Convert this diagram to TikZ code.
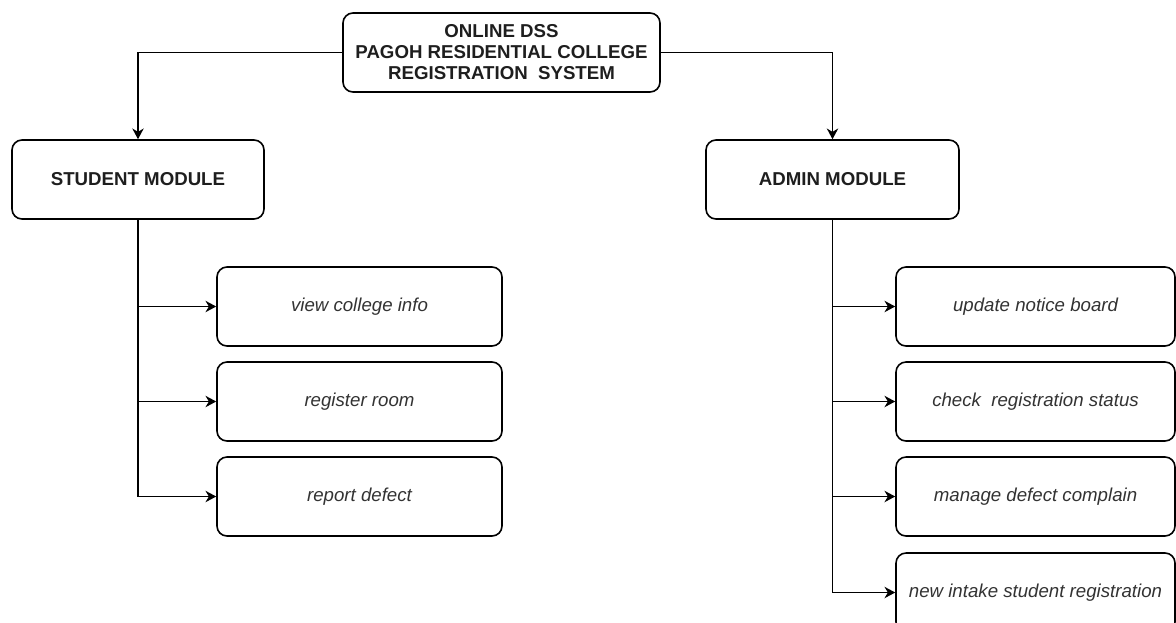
\documentclass[tikz,border=0pt]{standalone}
\usepackage{fontspec}
\setmainfont{Liberation Sans}
\usetikzlibrary{arrows.meta}
\definecolor{txtdark}{HTML}{1E1E1E}
\definecolor{txtital}{HTML}{333333}
\tikzset{
  box/.style={draw=black, line width=1.2pt, rounded corners=7.5pt, fill=white, align=center, inner sep=0pt},
  headbox/.style={box, font=\fontsize{14}{15.75}\selectfont\bfseries, text=txtdark},
  itembox/.style={box, font=\fontsize{14}{15.75}\selectfont\itshape, text=txtital},
  arr/.style={line width=1.2pt, -{Stealth[length=8pt, width=8.5pt, inset=2.5pt]}}
}
\begin{document}
\begin{tikzpicture}[x=0.75pt, y=-0.75pt]
\useasboundingbox (0,0) rectangle (1176,622);
\clip (0,0) rectangle (1176,622);
\fill[white] (0,0) rectangle (1176,622);
% top
\node[headbox, minimum width=237.75pt, minimum height=59.25pt] (top) at (501.5,52.5)
  {ONLINE DSS\\PAGOH RESIDENTIAL COLLEGE\\REGISTRATION~~SYSTEM};
% modules
\node[headbox, minimum width=189pt, minimum height=59.25pt] (stu) at (138,179.5) {STUDENT MODULE};
\node[headbox, minimum width=189.75pt, minimum height=59.25pt] (adm) at (832.5,179.5) {ADMIN MODULE};
% student children
\node[itembox, minimum width=213.75pt, minimum height=59.25pt] (s1) at (359.5,306.5) {view college info};
\node[itembox, minimum width=213.75pt, minimum height=59.25pt] (s2) at (359.5,401.5) {register room};
\node[itembox, minimum width=213.75pt, minimum height=59.25pt] (s3) at (359.5,496.5) {report defect};
% admin children
\node[itembox, minimum width=209.25pt, minimum height=59.25pt] (a1) at (1035.5,306.5) {update notice board};
\node[itembox, minimum width=209.25pt, minimum height=59.25pt] (a2) at (1035.5,401.5) {check~~registration status};
\node[itembox, minimum width=209.25pt, minimum height=59.25pt] (a3) at (1035.5,496.5) {manage defect complain};
\node[itembox, minimum width=209.25pt, minimum height=59.25pt] (a4) at (1035.5,592.5) {new intake student registration};
% connectors
\draw[arr] (top.west) -| (stu.north);
\draw[arr] (top.east) -| (adm.north);
\draw[arr] (stu.south) |- (s1.west);
\draw[arr] (stu.south) |- (s2.west);
\draw[arr] (stu.south) |- (s3.west);
\draw[arr] (adm.south) |- (a1.west);
\draw[arr] (adm.south) |- (a2.west);
\draw[arr] (adm.south) |- (a3.west);
\draw[arr] (adm.south) |- (a4.west);
\end{tikzpicture}
\end{document}
